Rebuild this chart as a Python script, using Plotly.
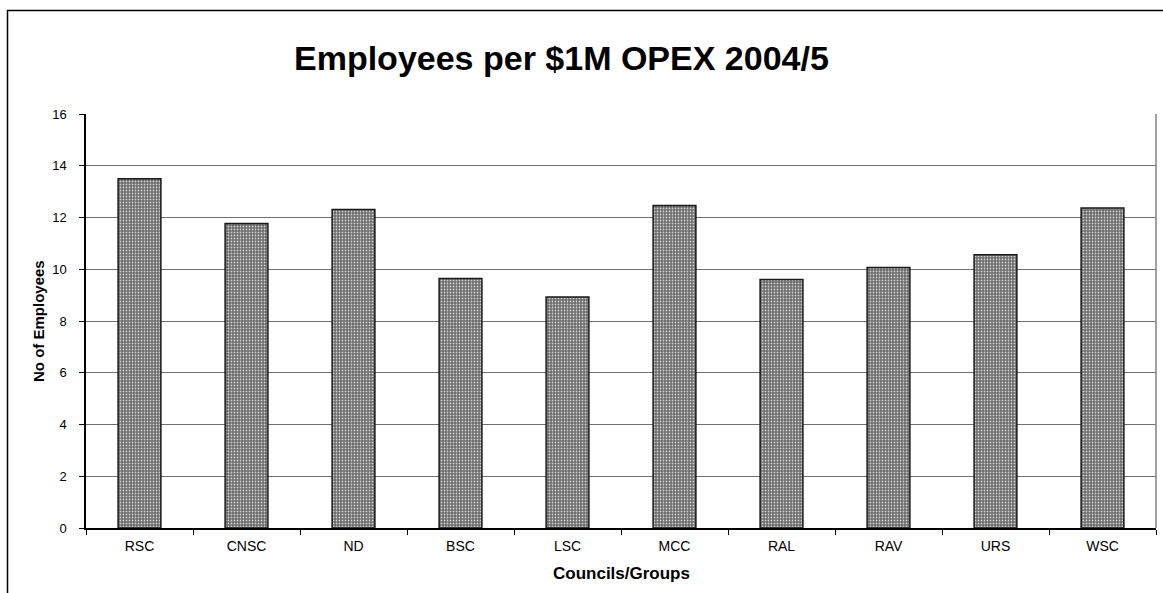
import plotly.graph_objects as go

# Councils / groups and employees per $1M operating expenditure, 2004/5
councils = ["RSC", "CNSC", "ND", "BSC", "LSC", "MCC", "RAL", "RAV", "URS", "WSC"]
employees = [13.50, 11.77, 12.31, 9.64, 8.93, 12.46, 9.60, 10.07, 10.56, 12.37]
y_ticks = [0, 2, 4, 6, 8, 10, 12, 14, 16]

W, H = 1163, 593
ml, mr, mt, mb = 86, 7, 114, 65

fig = go.Figure(
    go.Bar(
        x=councils,
        y=employees,
        marker=dict(
            color="#7a7a7a",
            line=dict(color="#1a1a1a", width=1.5),
            pattern=dict(shape=".", fgcolor="#cfcfcf", bgcolor="#6a6a6a",
                         size=3, solidity=0.3, fillmode="replace"),
        ),
        width=0.4,
    )
)

fig.update_layout(
    width=W, height=H,
    margin=dict(l=ml, r=mr, t=mt, b=mb),
    paper_bgcolor="white",
    plot_bgcolor="white",
    showlegend=False,
    font=dict(family="Liberation Sans, Arial, sans-serif", color="black"),
    annotations=[
        dict(text="<b>Employees per $1M OPEX 2004/5</b>", xref="paper", yref="paper",
             x=(561 - ml) / (W - ml - mr), y=1 + (mt - 58) / (H - mt - mb),
             xanchor="center", yanchor="middle", showarrow=False,
             font=dict(size=34)),
        dict(text="<b>No of Employees</b>", xref="paper", yref="paper",
             x=-(ml - 38) / (W - ml - mr), y=0.5, textangle=-90,
             xanchor="center", yanchor="middle", showarrow=False,
             font=dict(size=15)),
        dict(text="<b>Councils/Groups</b>", xref="paper", yref="paper",
             x=0.5, y=-(573 - (H - mb)) / (H - mt - mb),
             xanchor="center", yanchor="middle", showarrow=False,
             font=dict(size=17)),
    ],
    shapes=[
        # outer chart frame (extends past the page edges on right and bottom)
        dict(type="rect", xref="paper", yref="paper",
             x0=-(ml - 7.5) / (W - ml - mr), x1=1.5,
             y0=-1.0, y1=1 + (mt - 10.5) / (H - mt - mb),
             line=dict(color="black", width=1.5), layer="below"),
        # right edge of plot area
        dict(type="line", xref="paper", yref="paper", x0=1, x1=1, y0=0, y1=1,
             line=dict(color="#808080", width=1.5)),
    ],
)

fig.update_xaxes(
    showline=True, linecolor="black", linewidth=1.5,
    ticks="outside", tickson="boundaries", ticklen=5, tickcolor="black",
    tickfont=dict(size=14), ticklabelstandoff=4,
    showgrid=False,
)
fig.update_yaxes(
    range=[0, 16], tickvals=y_ticks,
    showline=True, linecolor="black", linewidth=1.5,
    ticks="outside", ticklen=5, tickcolor="black",
    tickfont=dict(size=13), ticklabelstandoff=10,
    showgrid=True, gridcolor="#707070", gridwidth=1.2,
    zeroline=False,
)

fig.write_html("out.html")
